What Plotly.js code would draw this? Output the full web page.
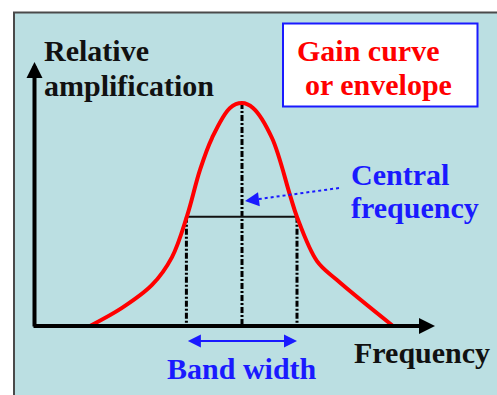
<!DOCTYPE html>
<html><head><meta charset="utf-8">
<script src="https://cdn.plot.ly/plotly-3.0.1.min.js"></script>
<style>html,body{margin:0;padding:0;background:#fff}#chart{width:497px;height:395px}</style>
</head><body><div id="chart"></div>
<script>
// ---- data (frequency in arbitrary units, relative gain 0..1) ----
const freq = [1.2,2.0,2.75,3.25,3.625,3.95,4.25,4.7,5.0,5.275,5.75,6.2,6.375,6.875,7.375,8.775];
const gain = [0,0.081,0.184,0.309,0.493,0.700,0.843,0.978,1.0,0.978,0.843,0.587,0.489,0.291,0.206,0];
const centerFreq = 5.0;
const peakGain = 1.0;
const bandLow = 3.61;
const bandHigh = 6.375;
const halfGain = 0.49;
const labels = {
  yTitle: ["Relative", "amplification"],
  xTitle: "Frequency",
  legendBox: ["Gain curve", "or envelope"],
  center: ["Central", "frequency"],
  band: "Band width"
};

// ---- layout helpers (pixel -> axis units, for placing decorations) ----
const W = 497, H = 395;
const xPx = px => (px - 42) / 40;
const yPx = py => (326 - py) / 223;

const serif = "Liberation Serif";
const fs = 30;
const dashDot = '6px,2px,2px,2px';
const blue = '#1a1aff';

const traces = [
  // vertical dash-dot guides
  {x:[bandLow,bandLow], y:[halfGain,0], mode:'lines', line:{color:'black', width:3, dash:dashDot}, hoverinfo:'skip'},
  {x:[bandHigh,bandHigh], y:[halfGain,0], mode:'lines', line:{color:'black', width:3, dash:dashDot}, hoverinfo:'skip'},
  {x:[centerFreq,centerFreq], y:[peakGain,0], mode:'lines', line:{color:'black', width:3, dash:dashDot}, hoverinfo:'skip'},
  // half-gain horizontal line
  {x:[bandLow,bandHigh], y:[halfGain,halfGain], mode:'lines', line:{color:'#111', width:2}, hoverinfo:'skip'},
  // gain curve
  {x:freq, y:gain, mode:'lines', line:{color:'#ff0000', width:4, shape:'spline', smoothing:1}, hoverinfo:'skip'},
  // dotted pointer line
  {x:[xPx(339), xPx(252)], y:[yPx(188), yPx(200)], mode:'lines', line:{color:blue, width:2, dash:'dot'}, hoverinfo:'skip'}
];

const ann = [];
// axes as arrows
ann.push({xref:'x',yref:'y',axref:'x',ayref:'y', x:xPx(435), y:0, ax:xPx(32), ay:0, text:'', showarrow:true, arrowhead:2, arrowsize:0.8, arrowwidth:4, arrowcolor:'black', standoff:0});
ann.push({xref:'x',yref:'y',axref:'x',ayref:'y', x:xPx(34.5), y:yPx(62), ax:xPx(34.5), ay:yPx(328), text:'', showarrow:true, arrowhead:2, arrowsize:0.8, arrowwidth:4, arrowcolor:'black', standoff:0});
// band width double arrow
ann.push({xref:'x',yref:'y',axref:'x',ayref:'y', x:bandHigh, y:yPx(341), ax:bandLow, ay:yPx(341), text:'', showarrow:true, arrowhead:2, arrowside:'end+start', arrowsize:1.3, arrowwidth:2, arrowcolor:blue, standoff:0, startstandoff:0});
// pointer head
ann.push({xref:'x',yref:'y',axref:'x',ayref:'y', x:xPx(245), y:yPx(201), ax:xPx(256), ay:yPx(199.6), text:'', showarrow:true, arrowhead:2, arrowsize:1.4, arrowwidth:2, arrowcolor:blue, standoff:0});

function txt(s, px, pyBase, anchor, color){
  ann.push({xref:'x', yref:'y', x:xPx(px), y:yPx(pyBase - 8), xanchor:anchor, yanchor:'middle', align:anchor, showarrow:false, text:s,
            font:{family:serif, size:fs, color:color, weight:'bold'}});
}
txt(labels.yTitle[0], 42, 58, 'left', '#111');
txt(labels.yTitle[1], 42, 93, 'left', '#111');
txt(labels.legendBox[0], 368, 58, 'center', '#ff0000');
txt(labels.legendBox[1], 378, 92, 'center', '#ff0000');
txt(labels.center[0], 349, 182, 'left', blue);
txt(labels.center[1], 349, 215, 'left', blue);
txt(labels.xTitle, 352, 360, 'left', '#111');
txt(labels.band, 242, 376, 'center', blue);

const shapes = [
  {type:'rect', xref:'x', yref:'y', layer:'below', x0:xPx(14), y0:yPx(12.5), x1:xPx(520), y1:yPx(420), fillcolor:'#bbdfe2', line:{color:'#4a4a4a', width:2}},
  {type:'rect', xref:'x', yref:'y', layer:'below', x0:xPx(283), y0:yPx(23.5), x1:xPx(477.5), y1:yPx(106.5), fillcolor:'#ffffff', line:{color:blue, width:2}}
];

const layout = {
  width:W, height:H, margin:{l:0,r:0,t:0,b:0},
  paper_bgcolor:'#ffffff', plot_bgcolor:'rgba(0,0,0,0)',
  showlegend:false,
  font:{family:serif},
  xaxis:{range:[xPx(0), xPx(W)], visible:false, fixedrange:true},
  yaxis:{range:[yPx(H), yPx(0)], visible:false, fixedrange:true},
  annotations:ann, shapes:shapes
};
Plotly.newPlot('chart', traces, layout, {staticPlot:true, displayModeBar:false});
</script></body></html>
